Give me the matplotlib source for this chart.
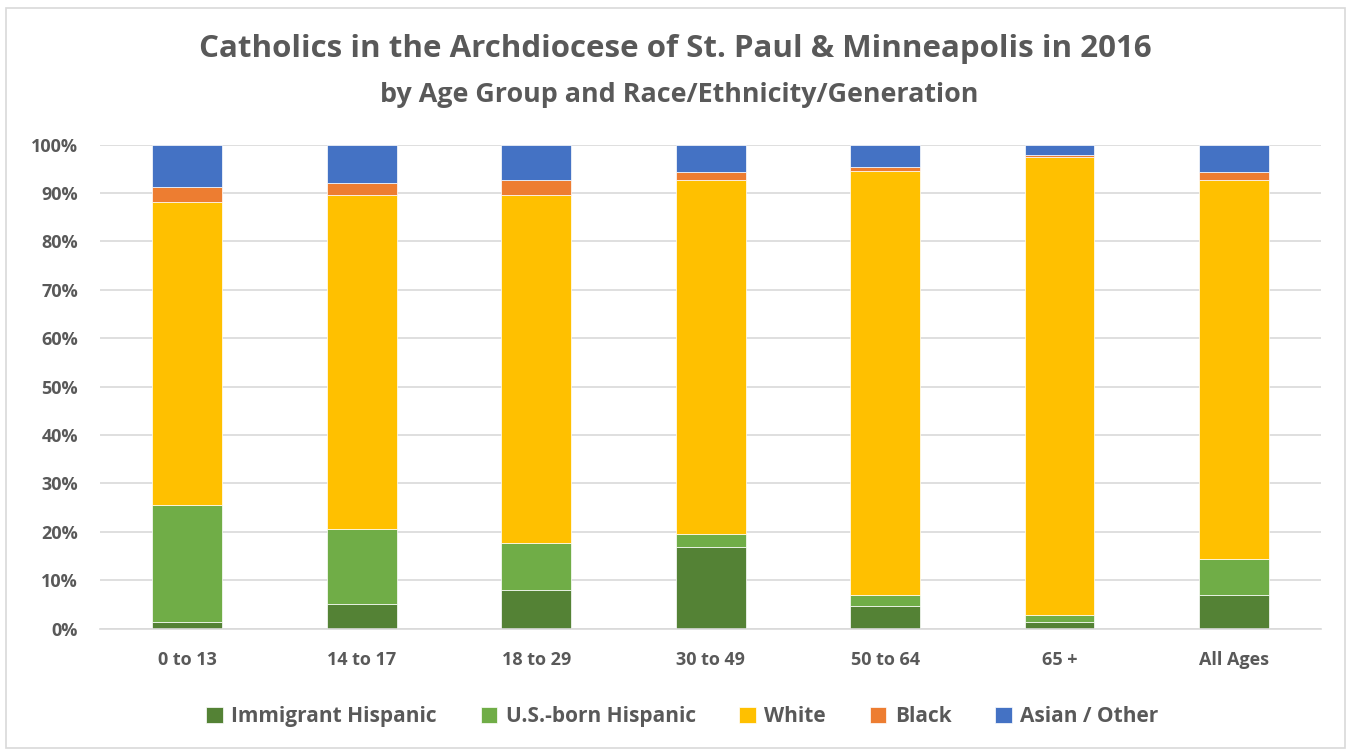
import matplotlib.pyplot as plt
from matplotlib.patches import Rectangle
from matplotlib.ticker import PercentFormatter
import numpy as np

plt.rcParams['font.family'] = ['Open Sans', 'DejaVu Sans']

age_groups = ["0 to 13", "14 to 17", "18 to 29", "30 to 49", "50 to 64", "65 +", "All Ages"]
immigrant_hispanic = [1.4, 5.1, 7.9, 16.9, 4.7, 1.3, 7.0]
us_born_hispanic = [24.2, 15.4, 9.8, 2.7, 2.2, 1.6, 7.4]
white = [62.5, 69.1, 71.9, 73.1, 87.6, 94.6, 78.3]
black = [3.1, 2.5, 3.1, 1.6, 0.9, 0.4, 1.7]
asian_other = [8.8, 7.9, 7.3, 5.7, 4.6, 2.1, 5.6]

series = [
    ("Immigrant Hispanic", immigrant_hispanic, "#548235"),
    ("U.S.-born Hispanic", us_born_hispanic, "#70AD47"),
    ("White", white, "#FFC000"),
    ("Black", black, "#ED7D31"),
    ("Asian / Other", asian_other, "#4472C4"),
]

text_color = "#595959"

fig = plt.figure(figsize=(13.51, 7.51), dpi=100)
ax = fig.add_axes([0.074, 0.163, 0.904, 0.6445])

x = np.arange(len(age_groups))
bottom = np.zeros(len(age_groups))
for name, vals, color in series:
    vals = np.array(vals) / 100
    ax.bar(x, vals, width=0.4, bottom=bottom, color=color, label=name,
           edgecolor="white", linewidth=0.5)
    bottom += vals

ax.set_xlim(-0.5, len(age_groups) - 0.5)
ax.set_ylim(0, 1)
ax.set_yticks(np.arange(0, 1.01, 0.1))
ax.yaxis.set_major_formatter(PercentFormatter(1.0, decimals=0))
ax.set_xticks(x)
ax.set_xticklabels(age_groups)
ax.grid(axis="y", color="#d9d9d9", linewidth=1.2)
ax.set_axisbelow(True)
for s in ["top", "right", "left"]:
    ax.spines[s].set_visible(False)
ax.spines["bottom"].set_color("#d9d9d9")
ax.spines["bottom"].set_linewidth(1.2)
ax.tick_params(axis="both", length=0, labelsize=13, labelcolor=text_color)
ax.tick_params(axis="y", pad=16)
ax.tick_params(axis="x", pad=16)
for lbl in ax.get_xticklabels() + ax.get_yticklabels():
    lbl.set_fontweight("bold")

fig.text(0.5, 0.935, "Catholics in the Archdiocese of St. Paul & Minneapolis in 2016",
         ha="center", va="center", fontsize=22.5, fontweight="bold", color=text_color)
fig.text(0.503, 0.873, "by Age Group and Race/Ethnicity/Generation",
         ha="center", va="center", fontsize=19.4, fontweight="bold", color=text_color)

leg = fig.legend(loc="center", bbox_to_anchor=(0.505, 0.046), ncol=5, frameon=False,
                 fontsize=15, handlelength=0.8, handleheight=0.8, handletextpad=0.4,
                 columnspacing=2.1)
for t in leg.get_texts():
    t.set_color(text_color)
    t.set_fontweight("bold")

fig.patches.append(Rectangle((0.0045, 0.004), 0.991, 0.985, transform=fig.transFigure,
                             fill=False, edgecolor="#d9d9d9", linewidth=1.2))

fig.savefig("out.png", dpi=100)
